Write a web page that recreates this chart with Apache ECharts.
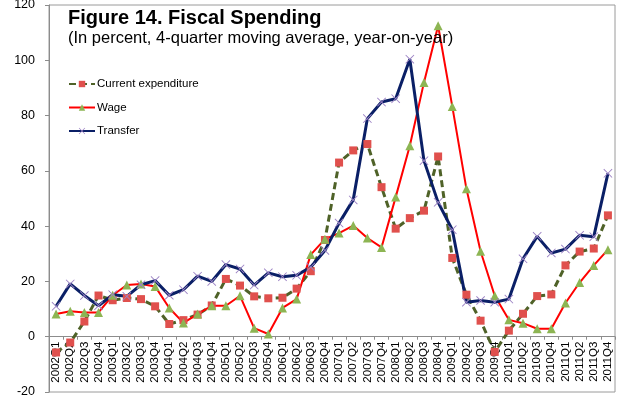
<!DOCTYPE html>
<html>
<head>
<meta charset="utf-8">
<script src="https://cdn.jsdelivr.net/npm/echarts@6/dist/echarts.min.js"></script>
<style>
  html, body { margin: 0; padding: 0; background: #fff; }
  #chart { width: 617px; height: 404px; }
</style>
</head>
<body>
<div id="chart"></div>
<script>
// Quarterly categories, 2002Q1 to 2011Q4
const quarters = [];
for (let y = 2002; y <= 2011; y++) {
  for (let q = 1; q <= 4; q++) quarters.push(y + 'Q' + q);
}

// Year-on-year growth, 4-quarter moving average (percent)
const currentExpenditure = [
  -5.7, -2.1, 5.5, 14.9, 13.2, 14.0, 13.6, 11.0,
  4.6, 6.0, 8.0, 11.3, 20.9, 18.5, 14.6, 13.9,
  14.1, 17.4, 23.7, 35.0, 63.0, 67.4, 69.7, 54.1,
  39.1, 42.9, 45.6, 65.2, 28.5, 15.2, 5.8, -5.5,
  2.2, 8.3, 14.7, 15.3, 25.8, 30.8, 31.9, 43.9
];
const wage = [
  8.2, 9.2, 8.8, 8.8, 15.0, 18.7, 19.1, 18.2,
  10.4, 5.0, 8.2, 11.2, 11.2, 14.8, 3.1, 1.0,
  10.4, 13.6, 29.7, 35.3, 37.5, 40.2, 35.7, 32.3,
  50.5, 69.1, 92.0, 112.5, 83.3, 53.5, 30.9, 14.8,
  6.1, 4.9, 2.9, 2.9, 12.2, 19.6, 25.8, 31.5
];
const transfer = [
  11.0, 19.1, 14.9, 11.2, 15.2, 14.6, 18.8, 20.3,
  15.0, 17.0, 21.9, 20.0, 26.1, 24.5, 18.7, 23.1,
  21.7, 22.2, 25.2, 31.2, 41.1, 49.5, 78.9, 84.9,
  86.1, 100.4, 63.7, 48.6, 38.7, 12.5, 13.1, 12.5,
  13.6, 28.2, 36.3, 30.3, 31.7, 36.7, 36.2, 59.1
];

const yMin = -20, yMax = 120, yStep = 20;

// Plot area in pixels
const W = 617, H = 404;
const gridBox = { left: 49, right: 2, top: 5, bottom: 12 };
const plotHeight = H - gridBox.top - gridBox.bottom;
// Category axis sits on the zero line, labels follow it
const zeroOffset = -plotHeight * (0 - yMin) / (yMax - yMin);

const crossMarker = 'path://M0,0.7L0.7,0L5,4.3L9.3,0L10,0.7L5.7,5L10,9.3L9.3,10L5,5.7L0.7,10L0,9.3L4.3,5Z';

const chart = echarts.init(document.getElementById('chart'), null, { renderer: 'canvas' });

const font = '"Liberation Sans", Arial, sans-serif';

chart.setOption({
  animation: false,
  textStyle: { fontFamily: font },
  title: [
    {
      text: 'Figure 14. Fiscal Spending',
      left: 68,
      top: 8,
      padding: 0,
      textStyle: { fontFamily: font, fontSize: 20, fontWeight: 'bold', color: '#000' }
    },
    {
      text: '(In percent, 4-quarter moving average, year-on-year)',
      left: 68,
      top: 29.5,
      padding: 0,
      textStyle: { fontFamily: font, fontSize: 16.5, fontWeight: 'normal', color: '#000' }
    }
  ],
  legend: {
    orient: 'vertical',
    left: 68,
    top: 78,
    padding: 0,
    itemWidth: 26,
    itemHeight: 8,
    itemGap: 11.5,
    textStyle: { fontFamily: font, fontSize: 11.5, color: '#000', padding: [0, 0, 0, -3] },
    data: ['Current expenditure', 'Wage', 'Transfer']
  },
  grid: {
    left: gridBox.left,
    right: gridBox.right,
    top: gridBox.top,
    bottom: gridBox.bottom,
    outerBoundsMode: 'none',
    containLabel: false,
    show: true,
    borderColor: '#9a9a9a',
    borderWidth: 1
  },
  xAxis: {
    type: 'category',
    data: quarters,
    boundaryGap: true,
    offset: zeroOffset,
    axisLine: { onZero: false, lineStyle: { color: '#8c8c8c', width: 1 } },
    axisTick: { show: true, length: 3, lineStyle: { color: '#8c8c8c' } },
    axisLabel: { rotate: 90, fontSize: 11.5, color: '#000', margin: 5, interval: 0, fontFamily: font },
    splitLine: { show: false }
  },
  yAxis: {
    type: 'value',
    min: yMin,
    max: yMax,
    interval: yStep,
    axisLine: { show: true, lineStyle: { color: '#8c8c8c', width: 1 } },
    axisTick: { show: true, length: 4, lineStyle: { color: '#8c8c8c' } },
    axisLabel: { fontSize: 12.5, color: '#000', margin: 14, fontFamily: font },
    splitLine: { show: false }
  },
  series: [
    {
      name: 'Current expenditure',
      type: 'line',
      data: currentExpenditure,
      symbol: 'rect',
      symbolSize: 8,
      showAllSymbol: true,
      lineStyle: { color: '#4F6228', width: 3, type: [7, 4] },
      itemStyle: { color: '#E0504D' }
    },
    {
      name: 'Wage',
      type: 'line',
      data: wage,
      symbol: 'triangle',
      symbolSize: 9,
      showAllSymbol: true,
      lineStyle: { color: '#FF0000', width: 2 },
      itemStyle: { color: '#8DB553' }
    },
    {
      name: 'Transfer',
      type: 'line',
      data: transfer,
      symbol: crossMarker,
      symbolSize: 9,
      showAllSymbol: true,
      lineStyle: { color: '#0A1F66', width: 3 },
      itemStyle: { color: '#9C82C4' }
    }
  ]
});
</script>
</body>
</html>
